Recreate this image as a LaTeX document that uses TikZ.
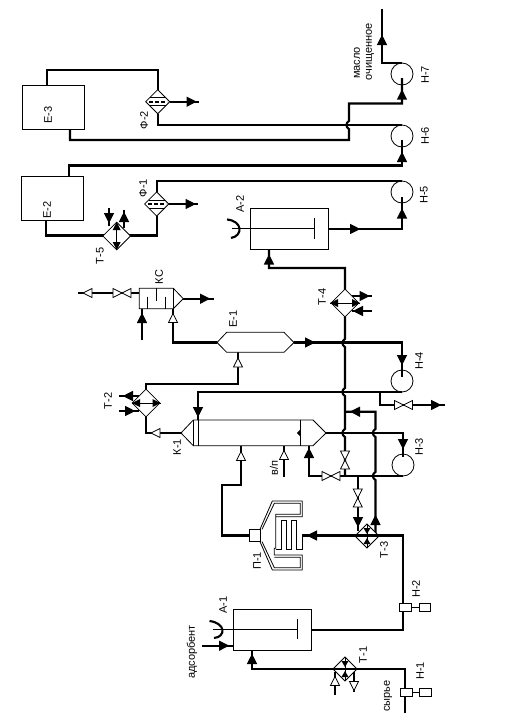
\documentclass[tikz,border=0pt]{standalone}
\usepackage{fontspec}
\setmainfont{Liberation Sans}
\usetikzlibrary{shapes.geometric}
\newcommand\tipS[3]{\fill[black,shift={(#1,#2)},rotate=#3] (-5,-5.2) -- (5.2,0) -- (-5,5.2) -- cycle;}
\newcommand\tipO[3]{\filldraw[fill=white,draw=black,line width=.8pt,shift={(#1,#2)},rotate=#3] (-4.5,-4.5) -- (4.5,0) -- (-4.5,4.5) -- cycle;}
\newcommand\tipM[3]{\fill[black,shift={(#1,#2)},rotate=#3] (-3,-3.5) -- (3,0) -- (-3,3.5) -- cycle;}
\newcommand\tipL[3]{\fill[black,shift={(#1,#2)},rotate=#3] (-4,-4) -- (4,0) -- (-4,4) -- cycle;}
\newcommand\vj[2]{-- (#1,#2-4) .. controls (#1-3.5,#2-2) and (#1-3.5,#2+2) .. (#1,#2+4)}
\newcommand\valveH[3]{\node[valvebox,minimum width=18pt,minimum height=10pt] (#1) at (#2,#3) {}; \filldraw[thin line,fill=white] (#2-9,#3-4.5) -- (#2+9,#3+4.5) -- (#2+9,#3-4.5) -- (#2-9,#3+4.5) -- cycle;}
\newcommand\valveV[3]{\node[valvebox,minimum width=10pt,minimum height=18pt] (#1) at (#2,#3) {}; \filldraw[thin line,fill=white] (#2-4.5,#3-9) -- (#2+4.5,#3+9) -- (#2-4.5,#3+9) -- (#2+4.5,#3-9) -- cycle;}
\tikzset{
  pipe/.style={line width=2.1pt,line join=miter,draw=black},
  thin line/.style={line width=.8pt,draw=black},
  box/.style={rectangle,draw=black,line width=.9pt,fill=white,inner sep=0pt},
  pump/.style={circle,draw=black,line width=.8pt,inner sep=0pt,minimum size=22pt},
  hx/.style={diamond,aspect=1,draw=black,line width=.8pt,fill=white,inner sep=0pt},
  valvebox/.style={inner sep=0pt},
  lbl/.style={rotate=90,inner sep=0pt,font=\fontsize{11}{12}\selectfont},
}
\begin{document}
\begin{tikzpicture}[x=1pt,y=-1pt]
\useasboundingbox (0,0) rectangle (525,726);
\fill[white] (0,0) rectangle (525,726);

% equipment positions
\coordinate (e3top) at (47,85);  \coordinate (e3bot) at (70,129);
\coordinate (e2top) at (69,176); \coordinate (e2bot) at (46,220);
\coordinate (a2in) at (269,249); \coordinate (a2out) at (329,229);
\coordinate (a1in) at (252,651); \coordinate (a1out) at (312,630); \coordinate (a1ads) at (233.3,645.7);
\coordinate (h7in) at (402,78);  \coordinate (h6in) at (402,140); \coordinate (h5in) at (402,197);
\coordinate (h4in) at (402,377); \coordinate (h3in) at (403,457);
\coordinate (k1L) at (181,433);  \coordinate (k1R) at (326,433);
\coordinate (k1top) at (198,420); \coordinate (k1feed) at (241,445.7); \coordinate (k1vp) at (284,445.7); \coordinate (k1ret) at (309,445.7);
\coordinate (e1L) at (217,342.5); \coordinate (e1R) at (294,342.5); \coordinate (e1in) at (238,352);
\coordinate (ksL) at (139.3,293); \coordinate (ksR) at (183.3,298.7); \coordinate (ksb1) at (142,308.7); \coordinate (ksb2) at (173,308.7);
\coordinate (p1in) at (302.3,535.5); \coordinate (p1out) at (249.3,535.5);
% free ends
\coordinate (oilEnd) at (382,9);
\coordinate (f2End) at (199,101.7); \coordinate (f1End) at (198,204);
\coordinate (ksEnd) at (214,298.7); \coordinate (ksVent) at (78,293); \coordinate (ksCool) at (142,340);
\coordinate (vpEnd) at (284,477); \coordinate (adsEnd) at (202,645.7);
\coordinate (rawEnd) at (405,713); \coordinate (h4End) at (445,405);

% pipes
\draw[pipe] (e3top) -- (47,70) -- (157.7,70) -- (157.7,90);
\draw[pipe] (170,101.7) -- (f2End);
\draw[pipe] (157.7,114) -- (157.7,125) -- (402,125);
\draw[pipe] (e3bot) -- (70,140) -- (349,140) -- (349,129) .. controls (345.5,127) and (345.5,123) .. (349,121) -- (349,103.5) -- (402,103.5) -- (h7in);
\draw[pipe] (402,63) -- (382,63) -- (oilEnd);
\draw[pipe] (e2top) -- (69,165.5) -- (402,165.5) -- (h6in);
\draw[pipe] (157,192) -- (157,181) -- (402,181);
\draw[pipe] (a2out) -- (402,229) -- (h5in);
\draw[pipe] (169,204) -- (f1End);
\draw[pipe] (157,216) -- (157,235.5) -- (46,235.5) -- (e2bot);
\draw[pipe] (a2in) -- (269,268) -- (345,268) \vj{345}{343} \vj{345}{392} \vj{345}{433} -- (345,476);
\draw[pipe] (e1R) -- (402,342.5) -- (h4in);
\draw[pipe] (402,392) -- (198,392) -- (k1top);
\draw[pipe] (380,392) -- (380,405) -- (h4End);
\draw[pipe] (k1R) -- (403,433) -- (h3in);
\draw[pipe] (403,476) -- (309,476) -- (k1ret);
\draw[pipe] (345,411.7) -- (375.5,411.7) \vj{375.5}{433} \vj{375.5}{476} -- (375.5,533);
\draw[pipe] (358,476) -- (358,531);
\draw[pipe] (k1L) -- (146,433) -- (146,384) -- (238,384) -- (e1in);
\draw[pipe] (e1L) -- (173,342.5) -- (ksb2);
\draw[pipe] (ksR) -- (ksEnd);
\draw[pipe] (ksL) -- (ksVent);
\draw[pipe] (ksCool) -- (ksb1);
\draw[pipe] (139,396) -- (119,396);
\draw[pipe] (119,411) -- (139,411);
\draw[pipe] (352,296) -- (372,296);
\draw[pipe] (372,311) -- (352,311);
\draw[pipe] (109,208) -- (109,226);
\draw[pipe] (124,228) -- (124,210);
\draw[pipe] (p1out) -- (222,535.5) -- (222,485) -- (241,485) -- (k1feed);
\draw[pipe] (vpEnd) -- (k1vp);
\draw[pipe] (p1in) -- (403,535.5) -- (403,630) -- (a1out);
\draw[pipe] (rawEnd) -- (405,669) -- (252,669) -- (a1in);
\draw[pipe] (adsEnd) -- (a1ads);
\draw[pipe] (335,695) -- (335,672);
\draw[pipe] (354,672) -- (354,692);

% vessels
\node[box,minimum width=62.5pt,minimum height=44pt] (E3) at (53.2,107) {};
\node[box,minimum width=62pt,minimum height=44pt] (E2) at (52.5,198) {};
\node[box,minimum width=78.5pt,minimum height=40.5pt] (A2) at (289.2,228.7) {};
\node[box,minimum width=78.4pt,minimum height=41.4pt] (A1) at (272.5,630) {};
\draw[thin line] (232,228.7) -- (314.5,228.7);
\draw[thin line] (314.5,218) -- (314.5,239);
\draw[pipe] (227,219.5) .. controls (243,221) and (243,236) .. (231,238);
\draw[thin line] (213,629.3) -- (297.3,629.3);
\draw[thin line] (297.3,619) -- (297.3,639);
\draw[pipe] (209.5,621) .. controls (226,623) and (226,637) .. (214,638);

% pumps
\node[pump] (H7) at (402,74) {};
\node[pump] (H6) at (402,136) {};
\node[pump] (H5) at (402,192) {};
\node[pump] (H4) at (402,381) {};
\node[pump] (H3) at (403,465) {};
\node[box,minimum width=12.4pt,minimum height=8.4pt] (H2) at (405.5,607.5) {};
\node[box,minimum width=11.4pt,minimum height=8.4pt] (H2m) at (425,607.5) {};
\draw[thin line] (H2) -- (H2m);
\node[box,minimum width=11.6pt,minimum height=8.4pt] (H1) at (406.5,692.5) {};
\node[box,minimum width=12.4pt,minimum height=8.4pt] (H1m) at (425.5,692.5) {};
\draw[thin line] (H1) -- (H1m);

% column K-1
\filldraw[thin line,fill=white] (k1L) -- (193.3,420) -- (313,420) -- (k1R) -- (313,445.7) -- (193.3,445.7) -- cycle;
\draw[thin line] (193.3,420) -- (193.3,445.7) (198.3,420) -- (198.3,445.7) (300.7,420) -- (300.7,445.7);
\fill[black] (300.7,429) -- (297,433) -- (300.7,437) -- cycle;

% E-1, KC
\filldraw[thin line,fill=white] (e1L) -- (226.7,332.3) -- (284,332.3) -- (e1R) -- (284,352.3) -- (226.7,352.3) -- cycle;
\filldraw[thin line,fill=white] (139.3,288.3) -- (173.3,288.3) -- (ksR) -- (173.3,308.7) -- (139.3,308.7) -- cycle;
\draw[thin line] (173.3,288.3) -- (173.3,308.7);
\draw[thin line] (147.5,296.5) -- (147.5,308.7) (156.5,288.3) -- (156.5,300.5) (165,296.5) -- (165,308.7);

% heat exchangers
\node[hx,minimum width=28pt,minimum height=28pt] (T5) at (116.7,236) {};
\node[hx,minimum width=28pt,minimum height=28pt] (T2) at (146,403) {};
\node[hx,minimum width=28pt,minimum height=28pt] (T4) at (345,303) {};
\node[hx,minimum width=24.4pt,minimum height=24.4pt] (T3) at (367,536) {};
\node[hx,minimum width=24.4pt,minimum height=24.4pt] (T1) at (345,669) {};
\draw[pipe] (355,535.5) -- (379,535.5);
\draw[pipe] (333,669) -- (357,669);
\draw[thin line] (116.7,222) -- (116.7,250);
\tipL{116.7}{226}{90} \tipL{116.7}{246}{-90}
\draw[thin line] (132,403) -- (160.5,403);
\tipL{136}{403}{180} \tipL{156.5}{403}{0}
\draw[thin line] (330,303) -- (360,303);
\tipL{334}{303}{180} \tipL{356}{303}{0}
\draw[thin line] (367,525) -- (367,547);
\tipM{367}{531}{-90} \tipM{367}{541}{90}
\draw[thin line] (345,658) -- (345,680);
\tipM{345}{664}{-90} \tipM{345}{674}{90}

% filters
\node[hx,minimum width=24.4pt,minimum height=24.4pt] (F2) at (157.7,101.7) {};
\node[hx,minimum width=24.4pt,minimum height=24.4pt] (F1) at (156.7,204) {};
\draw[thin line] (149.7,97.7) -- (165.7,97.7) (149.7,105.7) -- (165.7,105.7);
\draw[pipe,dash pattern=on 4pt off 2pt] (149,101.7) -- (167,101.7);
\draw[thin line] (148.7,200) -- (164.7,200) (148.7,208) -- (164.7,208);
\draw[pipe,dash pattern=on 4pt off 2pt] (148,204) -- (166,204);

% furnace P-1
\begin{scope}[shift={(240,490)},x=0.3333pt,y=-0.3333pt]
\node[box,minimum width=10.7pt,minimum height=12.4pt] (P1) at (44,136.5) {};
\draw[thin line] (60,118) -- (97,33) -- (187,33) -- (187,80) -- (107,80) -- (107,175) -- (103,175) -- (103,195) -- (187,195) -- (187,240) -- (97,240) -- (60,155);
\draw[thin line] (66,118) -- (103,40) -- (181,40) -- (181,73) -- (107,73) -- (107,80);
\draw[thin line] (66,155) -- (103,233) -- (181,233) -- (181,202) -- (103,202);
\draw[thin line] (107,178) -- (123,178) -- (123,90) -- (140,90) -- (140,178) -- (155,178) -- (155,90) -- (170,90) -- (170,178) -- (187,178) -- (187,135);
\end{scope}

% valves
\valveH{V1}{122}{293}
\valveH{V2}{403.5}{405}
\valveH{V3}{331}{476}
\valveV{V4}{345}{460}
\valveV{V5}{357.7}{498}

% flow arrowheads
\tipS{191.5}{101.7}{0}
\tipS{190.5}{204}{0}
\tipS{382}{40}{90}
\tipS{402}{94.7}{90}
\tipS{402}{157}{90}
\tipS{402}{213.5}{90}
\tipS{355}{229}{0}
\tipS{269}{259.5}{90}
\tipS{310}{342.5}{0}
\tipS{402}{360}{-90}
\tipS{403}{444}{-90}
\tipS{309}{453}{90}
\tipS{198}{412}{-90}
\tipS{436}{405}{0}
\tipS{355}{411.7}{180}
\tipS{205}{298.7}{0}
\tipS{142}{318}{90}
\tipS{128}{396}{180}
\tipS{130}{411}{0}
\tipS{364.5}{296}{0}
\tipS{358}{311}{180}
\tipS{109}{218}{-90}
\tipS{124}{217}{90}
\tipS{358}{522}{-90}
\tipS{375.5}{520}{90}
\tipS{312}{535.5}{180}
\tipS{252}{659}{90}
\tipS{224}{645.7}{0}
\tipO{87.5}{293}{180}
\tipO{173}{318}{90}
\tipO{238}{362.5}{90}
\tipO{155.5}{433}{180}
\tipO{241}{456}{90}
\tipO{284}{455}{90}
\tipO{335}{681}{90}
\tipO{354}{686}{-90}

% labels
\node[lbl] (lE3) at (48,115) {Е-3};
\node[lbl] (lF2) at (144,120) {Ф-2};
\node[lbl] (lF1) at (143,188) {Ф-1};
\node[lbl] (lE2) at (47,210) {Е-2};
\node[lbl] (lT5) at (100,256) {Т-5};
\node[lbl] (lA2) at (240,204) {А-2};
\node[lbl] (lH7) at (425,75) {Н-7};
\node[lbl] (lH6) at (425,136) {Н-6};
\node[lbl] (lH5) at (424,195) {Н-5};
\node[lbl] (lm1) at (357,63) {масло};
\node[lbl] (lm2) at (370,52) {очищенное};
\node[lbl] (lKC) at (159,277) {КС};
\node[lbl] (lE1) at (233,319) {Е-1};
\node[lbl] (lT2) at (108,401) {Т-2};
\node[lbl] (lK1) at (177,447) {К-1};
\node[lbl] (lvp) at (274,468) {в/п};
\node[lbl] (lT4) at (322,297) {Т-4};
\node[lbl] (lH4) at (419,361) {Н-4};
\node[lbl] (lH3) at (419,447) {Н-3};
\node[lbl] (lP1) at (257,561) {П-1};
\node[lbl] (lT3) at (384,550) {Т-3};
\node[lbl] (lH2) at (416,589) {Н-2};
\node[lbl] (lA1) at (223,605) {А-1};
\node[lbl] (lT1) at (363,655) {Т-1};
\node[lbl] (lH1) at (420,671) {Н-1};
\node[lbl] (lraw) at (388,696) {сырье};
\node[lbl] (lads) at (192,652) {адсорбент};
\end{tikzpicture}
\end{document}
